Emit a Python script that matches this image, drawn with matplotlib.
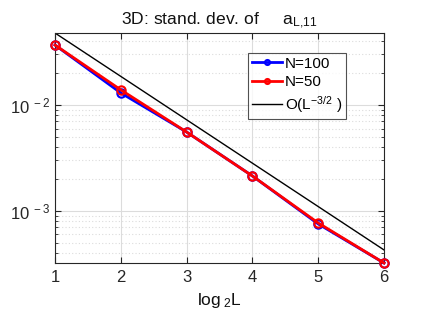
import matplotlib
matplotlib.use("Agg")
import matplotlib.pyplot as plt
import numpy as np
from matplotlib.ticker import LogLocator, NullFormatter, FuncFormatter

plt.rcParams['font.family'] = ['Liberation Sans', 'DejaVu Sans']
plt.rcParams['mathtext.fontset'] = 'custom'
plt.rcParams['mathtext.rm'] = 'Liberation Sans'
plt.rcParams['mathtext.it'] = 'Liberation Sans'

log2L = [1, 2, 3, 4, 5, 6]
sd_N100 = [0.0368, 0.0130, 0.00556, 0.00214, 0.000755, 0.000323]
sd_N50 = [0.0368, 0.0139, 0.00556, 0.00214, 0.000771, 0.000323]
ref_x = [1, 6]
ref_y = [0.0478, 0.000429]

fig = plt.figure(figsize=(4.25, 3.19), dpi=100)
ax = fig.add_axes([55/425, 1-263/319, (384-55)/425, (263-33)/319])

ax.semilogy(log2L, sd_N100, '-o', color='blue', lw=2, ms=6, mfc='none', mew=1.5, label='N=100', clip_on=False, zorder=3)
ax.semilogy(log2L, sd_N50, '-o', color='red', lw=2, ms=6, mfc='none', mew=1.5, label='N=50', clip_on=False, zorder=4)
ax.semilogy(ref_x, ref_y, '-', color='black', lw=1, label=r'O(L$^{-3/2}$ )', zorder=2)

ax.set_xlim(1, 6)
ax.set_ylim(sd_N50[-1], ref_y[0])
ax.set_xticks([1, 2, 3, 4, 5, 6])
ax.yaxis.set_major_locator(LogLocator(base=10))
ax.yaxis.set_minor_locator(LogLocator(base=10, subs=np.arange(2, 10)))
ax.yaxis.set_minor_formatter(NullFormatter())
ax.yaxis.set_major_formatter(FuncFormatter(lambda v, p: r'10$^{\ %d}$' % round(np.log10(v))))

ax.grid(True, which='major', color='#dcdcdc', lw=0.8, ls='-')
ax.grid(True, which='minor', axis='y', color='#dcdcdc', lw=0.8, ls=(0, (1, 2)))
ax.set_axisbelow(True)

for s in ax.spines.values():
    s.set_color('#262626')
    s.set_linewidth(0.8)
ax.tick_params(which='both', direction='in', top=True, right=True, colors='#262626', labelsize=12)
ax.tick_params(which='major', length=4)
ax.tick_params(which='minor', length=2)
ax.tick_params(axis='x', pad=5)

ax.set_title(r'3D: stand. dev. of     a$_{\mathrm{L{,}11}}$', fontsize=12.6, color='#111111', pad=6)
ax.set_xlabel(r'log$_{\ 2}$L', fontsize=12.5, color='#111111')

leg = ax.legend(loc='upper left', bbox_to_anchor=((248-55)/329, 1-(53-33)/230), fontsize=11,
                frameon=True, fancybox=False, edgecolor='#262626', handlelength=2.0,
                borderpad=0.25, labelspacing=0.3, handletextpad=0.15, borderaxespad=0,
                markerscale=0.6)
leg.get_frame().set_linewidth(0.8)

fig.savefig('out.png', dpi=100)
